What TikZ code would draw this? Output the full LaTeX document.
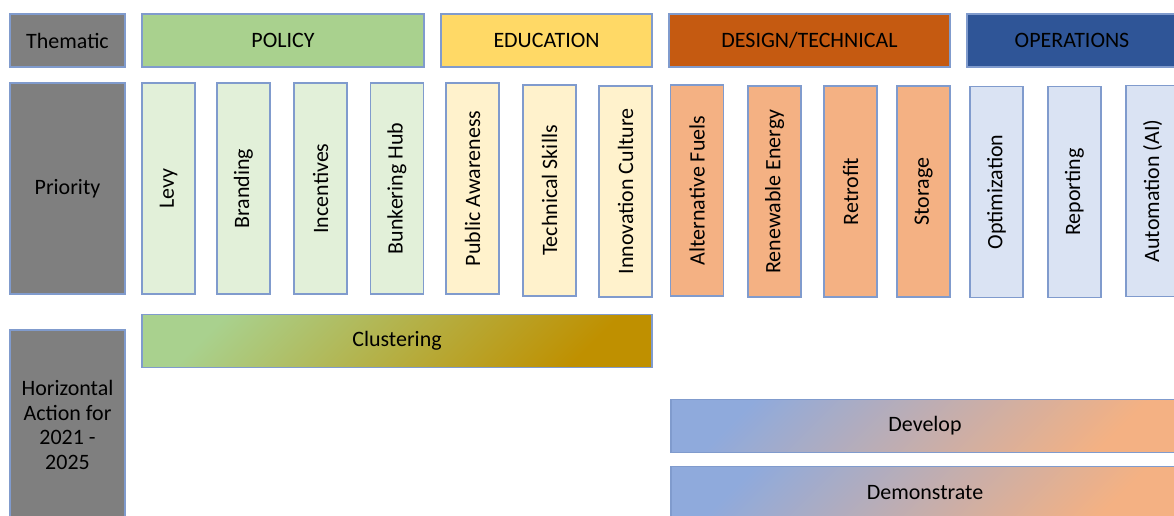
\documentclass[tikz,border=0pt]{standalone}
\usepackage{fontspec}
\setmainfont{Carlito}
\usepackage{graphicx}
\usepackage{tikz}
\usetikzlibrary{positioning}
\definecolor{edge}{RGB}{128,155,205}
\definecolor{label}{RGB}{127,127,127}
\definecolor{pol}{RGB}{169,209,142}
\definecolor{polL}{RGB}{226,240,217}
\definecolor{edu}{RGB}{255,217,102}
\definecolor{eduL}{RGB}{255,242,204}
\definecolor{des}{RGB}{197,90,17}
\definecolor{desL}{RGB}{244,177,131}
\definecolor{ops}{RGB}{47,85,151}
\definecolor{opsL}{RGB}{218,227,243}
\definecolor{gold}{RGB}{191,144,0}
\definecolor{sky}{RGB}{143,170,220}
\tikzset{
	box/.style={draw=edge,line width=0.8pt,rectangle,align=center,inner sep=0pt,
		font=\fontsize{12.5}{14}\selectfont},
	side/.style={box,fill=label,minimum width=2.3cm},
	head/.style={box,minimum height=1.06cm},
	prio/.style={box,minimum width=1.06cm,minimum height=4.22cm},
	bar/.style={box,shading=axis,minimum height=1.05cm}
}
\begin{document}
\begin{tikzpicture}
            \useasboundingbox (0,0) rectangle (23.48,-10.3);
            \clip (0,0) rectangle (23.48,-10.3);
            % row labels
            \node[side,minimum height=1.06cm] (thm) at (1.35,-0.81) {Thematic};
            \node[side,minimum height=4.22cm] (pri) at (1.35,-3.77) {Priority};
            \node[side,minimum height=3.8cm] (hor) at (1.35,-8.5) {Horizontal\\Action for\\2021 -\\2025};
            % themes
            \node[head,fill=pol,minimum width=5.64cm] (policy) at (5.66,-0.81) {POLICY};
            \node[head,fill=edu,minimum width=4.22cm] (education) at (10.93,-0.81) {EDUCATION};
            \node[head,fill=des,minimum width=5.62cm] (design) at (16.19,-0.81) {DESIGN/TECHNICAL};
            \node[head,fill=ops,minimum width=4.2cm] (operations) at (21.44,-0.81) {OPERATIONS};
            % priorities
            \node[prio,fill=polL] (levy) at (3.37,-3.77) {\rotatebox{90}{Levy}};
            \node[prio,fill=polL] (brand) at (4.87,-3.77) {\rotatebox{90}{Branding}};
            \node[prio,fill=polL] (incent) at (6.41,-3.77) {\rotatebox{90}{Incentives}};
            \node[prio,fill=polL] (hub) at (7.94,-3.77) {\rotatebox{90}{Bunkering Hub}};
            \node[prio,fill=eduL] (aware) at (9.45,-3.77) {\rotatebox{90}{Public Awareness}};
            \node[prio,fill=eduL] (skills) at (10.99,-3.81) {\rotatebox{90}{Technical Skills}};
            \node[prio,fill=eduL] (innov) at (12.51,-3.83) {\rotatebox{90}{Innovation Culture}};
            \node[prio,fill=desL] (fuels) at (13.94,-3.81) {\rotatebox{90}{Alternative Fuels}};
            \node[prio,fill=desL] (renew) at (15.49,-3.83) {\rotatebox{90}{Renewable Energy}};
            \node[prio,fill=desL] (retro) at (17.01,-3.83) {\rotatebox{90}{Retrofit}};
            \node[prio,fill=desL] (store) at (18.47,-3.83) {\rotatebox{90}{Storage}};
            \node[prio,fill=opsL] (optim) at (19.93,-3.84) {\rotatebox{90}{Optimization}};
            \node[prio,fill=opsL] (report) at (21.49,-3.84) {\rotatebox{90}{Reporting}};
            \node[prio,fill=opsL] (auto) at (23.05,-3.82) {\rotatebox{90}{Automation (AI)}};
            % horizontal actions
            \node[bar,top color=pol,bottom color=gold,shading angle=45,minimum width=10.2cm] (cluster) at (7.94,-6.82) {Clustering};
            \node[bar,top color=sky,bottom color=desL,shading angle=45,minimum width=10.16cm] (develop) at (18.5,-8.52) {Develop};
            \node[bar,top color=sky,bottom color=desL,shading angle=45,minimum width=10.16cm] (demo) at (18.5,-9.86) {Demonstrate};
        \end{tikzpicture}
\end{document}
